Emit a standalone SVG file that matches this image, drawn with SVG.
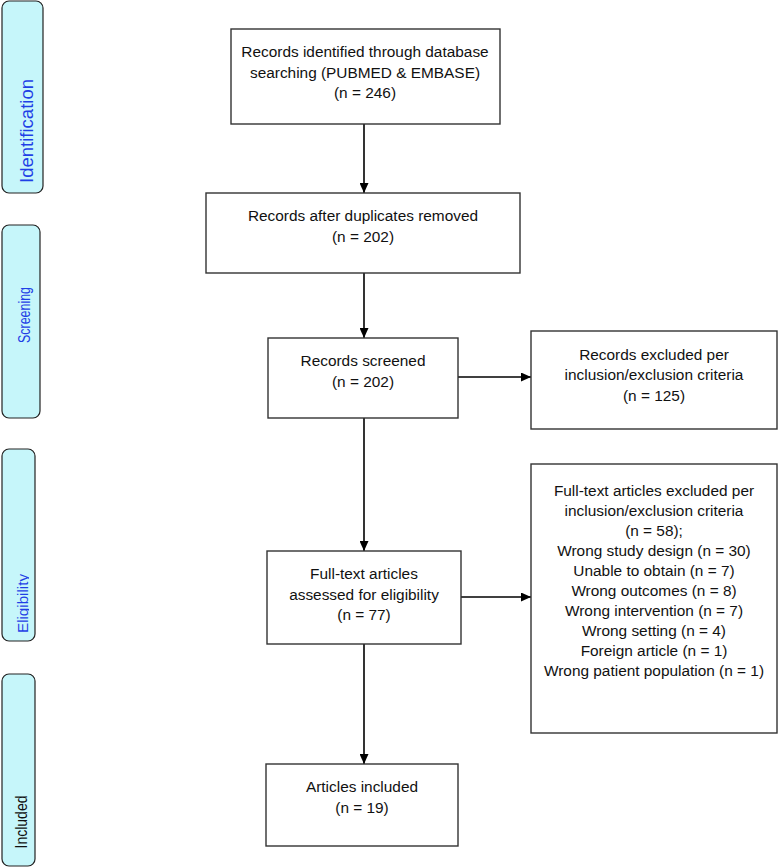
<svg xmlns="http://www.w3.org/2000/svg" width="778" height="867" viewBox="0 0 778 867">
<style>
.box{fill:#ffffff;stroke:#333333;stroke-width:1.4}
.side{fill:#c6f6fa;stroke:#222222;stroke-width:1.2}
.t{font-family:"Liberation Sans",Arial,sans-serif;font-size:15.4px;fill:#111111;text-anchor:middle}
.lab{font-family:"Liberation Sans",Arial,sans-serif;text-anchor:middle}
.blue{fill:#1f3fe6}
.blk{fill:#111111}
.conn{stroke:#000000;stroke-width:1.6;fill:none}
</style>
<defs>
<marker id="arr" markerUnits="userSpaceOnUse" markerWidth="11" markerHeight="9" refX="10" refY="4.5" orient="auto">
<path d="M0,0 L10,4.5 L0,9 z" fill="#000000"/>
</marker>
<clipPath id="eclip" clipPathUnits="userSpaceOnUse"><rect x="0" y="440" width="29" height="210"/></clipPath>
</defs>

<g id="side-identification">
<rect class="side" x="2" y="1" width="41" height="192" rx="7"/>
<text class="lab blue" font-size="19" textLength="104" lengthAdjust="spacingAndGlyphs" transform="translate(33,131) rotate(-90)">Identification</text>
</g>
<g id="side-screening">
<rect class="side" x="2" y="225" width="38" height="193" rx="7"/>
<text class="lab blue" font-size="17" textLength="56" lengthAdjust="spacingAndGlyphs" transform="translate(30,315) rotate(-90)">Screening</text>
</g>
<g id="side-eligibility">
<rect class="side" x="2" y="449" width="33" height="192" rx="7"/>
<g clip-path="url(#eclip)">
<text class="lab blue" font-size="14" textLength="59" lengthAdjust="spacingAndGlyphs" transform="translate(28,603.5) rotate(-90)">Eligibility</text>
</g>
</g>
<g id="side-included">
<rect class="side" x="2" y="674" width="33" height="192" rx="7"/>
<text class="lab blk" font-size="16.5" textLength="53" lengthAdjust="spacingAndGlyphs" transform="translate(27,822) rotate(-90)">Included</text>
</g>

<g id="connectors">
<line class="conn" x1="364" y1="124" x2="364" y2="193" marker-end="url(#arr)"/>
<line class="conn" x1="364" y1="273" x2="364" y2="338" marker-end="url(#arr)"/>
<line class="conn" x1="364" y1="418" x2="364" y2="551" marker-end="url(#arr)"/>
<line class="conn" x1="364" y1="644" x2="364" y2="764" marker-end="url(#arr)"/>
<line class="conn" x1="458" y1="377" x2="531" y2="377" marker-end="url(#arr)"/>
<line class="conn" x1="461" y1="597" x2="531" y2="597" marker-end="url(#arr)"/>
</g>

<g id="n-identified">
<rect class="box" x="231" y="29" width="269" height="95"/>
<text class="t" x="365" y="57">Records identified through database</text>
<text class="t" x="365" y="77.5">searching (PUBMED &amp; EMBASE)</text>
<text class="t" x="365" y="98">(n = 246)</text>
</g>
<g id="n-duplicates">
<rect class="box" x="206" y="193" width="314" height="80"/>
<text class="t" x="363" y="221">Records after duplicates removed</text>
<text class="t" x="363" y="241.5">(n = 202)</text>
</g>
<g id="n-screened">
<rect class="box" x="268" y="338" width="190" height="80"/>
<text class="t" x="363" y="366">Records screened</text>
<text class="t" x="363" y="386.5">(n = 202)</text>
</g>
<g id="n-excluded">
<rect class="box" x="531" y="331" width="246" height="98"/>
<text class="t" x="654" y="359.5">Records excluded per</text>
<text class="t" x="654" y="380">inclusion/exclusion criteria</text>
<text class="t" x="654" y="400.5">(n = 125)</text>
</g>
<g id="n-fulltext">
<rect class="box" x="267" y="551" width="194" height="93"/>
<text class="t" x="364" y="579">Full-text articles</text>
<text class="t" x="364" y="599.5">assessed for eligibility</text>
<text class="t" x="364" y="620">(n = 77)</text>
</g>
<g id="n-fulltext-excluded">
<rect class="box" x="531" y="464" width="246" height="269"/>
<text class="t" x="654" y="496">Full-text articles excluded per</text>
<text class="t" x="654" y="516">inclusion/exclusion criteria</text>
<text class="t" x="654" y="536">(n = 58);</text>
<text class="t" x="654" y="556">Wrong study design (n = 30)</text>
<text class="t" x="654" y="576">Unable to obtain (n = 7)</text>
<text class="t" x="654" y="596">Wrong outcomes (n = 8)</text>
<text class="t" x="654" y="616">Wrong intervention (n = 7)</text>
<text class="t" x="654" y="636">Wrong setting (n = 4)</text>
<text class="t" x="654" y="656">Foreign article (n = 1)</text>
<text class="t" x="654" y="676">Wrong patient population (n = 1)</text>
</g>
<g id="n-included">
<rect class="box" x="266" y="764" width="192" height="82"/>
<text class="t" x="362" y="792">Articles included</text>
<text class="t" x="362" y="812.5">(n = 19)</text>
</g>
</svg>
